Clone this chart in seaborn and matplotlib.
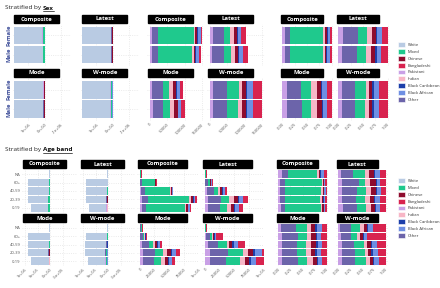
import numpy as np
import pandas as pd
import matplotlib.pyplot as plt
import matplotlib.patches as mpatches
from matplotlib.lines import Line2D
import seaborn as sns

# columnas de los datos (en miles de personas)
cols_datos = ['White', 'Pakistani', 'Other', 'Mixed', 'Indian', 'Chinese',
              'Black Caribbean', 'Black African', 'Bangladeshi']

# leyenda (orden y colores)
leyenda = ['White', 'Mixed', 'Chinese', 'Bangladeshi', 'Pakistani', 'Indian',
           'Black Caribbean', 'Black African', 'Other']
colores = ['#B9CBE3', '#1FC98D', '#8E0C2E', '#D8234F', '#C9A0E6', '#F7B6C6',
           '#1C3FAA', '#6E8FE3', '#6C64AA']
metodos = ['Composite', 'Latest', 'Mode', 'W-mode']

# ---- Sexo (filas: Female, Male) ----
sexo_grupos = ['Female', 'Male']
sexo_composite = [[1750, 7, 16, 103, 5, 5, 3, 7, 5],
                  [1720, 7, 16, 98, 5, 4, 3, 8, 6]]
sexo_latest = [[1790, 9, 31, 19, 12, 8, 2, 10, 12],
               [1760, 8, 33, 21, 11, 9, 3, 10, 14]]
sexo_mode = [[1800, 8, 29, 19, 11, 8, 3, 10, 8],
             [1765, 9, 30, 20, 11, 10, 2, 9, 9]]
sexo_wmode = [[1750, 11, 39, 33, 10, 10, 5, 15, 27],
              [1715, 11, 39, 30, 13, 10, 5, 15, 27]]

# ---- Banda de edad (filas: NA, 60+, 40-59, 20-39, 0-19) ----
edad_grupos = ['NA', '60+', '40-59', '20-39', '0-19']
edad_composite = [[40, 0.2, 0.4, 1.8, 0.1, 0.1, 0.05, 0.2, 0.15],
                  [840, 1, 3, 22, 0.6, 0.6, 0.3, 0.8, 0.7],
                  [840, 2, 6, 43, 1.5, 1.5, 0.6, 1.5, 1],
                  [800, 4, 10, 70, 3, 3, 1.5, 3, 2.5],
                  [680, 4, 7, 66, 2.5, 2, 1.2, 2, 2.3]]
edad_latest = [[40, 0.2, 0.8, 0.8, 0.3, 0.3, 0.1, 0.3, 0.4],
               [850, 1, 5, 2, 1.5, 1.5, 0.3, 1, 1.7],
               [860, 3, 12, 7, 4, 4, 1, 3, 4],
               [810, 6, 22, 14, 8, 6, 2, 7, 9],
               [700, 6, 20, 12, 7, 5, 1.5, 6, 7.5]]
edad_mode = [[40, 0.3, 1.5, 1.2, 0.4, 0.4, 0.2, 0.5, 0.5],
             [850, 1, 4, 2, 1.2, 1.2, 0.3, 1, 1.3],
             [860, 3, 12, 7, 4, 4, 1, 3, 4],
             [810, 5, 21, 13, 8, 6, 2, 6, 8],
             [700, 5, 19, 12, 7, 5, 1.5, 5, 5.5]]
edad_wmode = [[40, 0.1, 0.7, 0.6, 0.2, 0.2, 0.1, 0.3, 0.8],
              [840, 2, 6, 4, 2, 2, 1, 2, 12],
              [850, 5, 18, 14, 5, 5, 2, 7, 13],
              [800, 8, 32, 25, 9, 8, 4, 12, 19],
              [690, 8, 28, 24, 8, 7, 3, 10, 15]]

sns.set_theme(style='whitegrid')
plt.rcParams['font.family'] = ['Open Sans', 'DejaVu Sans']
plt.rcParams['grid.color'] = '#e4e4e4'
plt.rcParams['grid.linestyle'] = ':'
plt.rcParams['grid.linewidth'] = 0.6

paleta = dict(zip(leyenda, colores))
W, H = 440, 288
fig = plt.figure(figsize=(4.4, 2.88), dpi=100)


def caja(x0, y0, x1, y1):
    return fig.add_axes([x0 / W, 1 - y1 / H, (x1 - x0) / W, (y1 - y0) / H])


def tabla(datos, grupos):
    filas = []
    for i, g in enumerate(grupos):
        for j, e in enumerate(cols_datos):
            filas.append({'pos': len(grupos) - 1 - i, 'etnia': e, 'n': datos[i][j]})
    return pd.DataFrame(filas)


def panel(ax, datos, grupos, modo, titulo, xlim, ticks, etiquetas,
          mostrar_x, mostrar_y, estilo_y):
    df = tabla(datos, grupos)
    if modo == 'todo':
        orden = cols_datos
        multiple = 'stack'
    else:
        df = df[df['etnia'] != 'White']
        orden = cols_datos[1:][::-1]
        multiple = 'fill' if modo == 'prop' else 'stack'
    sns.histplot(data=df, y='pos', hue='etnia', weights='n', discrete=True,
                 multiple=multiple, hue_order=orden, palette=paleta,
                 shrink=0.9, linewidth=0, alpha=1, legend=False, ax=ax)
    ax.set_xlabel('')
    ax.set_ylabel('')
    ax.set_xlim(*xlim)
    ax.set_ylim(-0.6, len(grupos) - 0.4)
    ax.set_xticks(ticks)
    ax.set_yticks(range(len(grupos)))
    if mostrar_x:
        ax.set_xticklabels(etiquetas, rotation=45, ha='right', rotation_mode='anchor')
    else:
        ax.set_xticklabels([])
    if mostrar_y:
        if estilo_y == 'sexo':
            ax.set_yticklabels(grupos[::-1], rotation=90, va='center',
                               fontsize=4.2, fontweight='bold', color='#3F4F9A')
        else:
            ax.set_yticklabels(grupos[::-1], fontsize=3, color='#555555')
    else:
        ax.set_yticklabels([])
    ax.tick_params(axis='x', labelsize=3, colors='#555555', length=0, pad=1)
    ax.tick_params(axis='y', length=0, pad=1)
    for s in ax.spines.values():
        s.set_visible(False)
    # tira negra con el nombre del metodo
    alto = ax.get_position().height * H
    ax.add_patch(mpatches.Rectangle((0.02, 1 + 1.0 / alto), 0.78, 8.0 / alto,
                                    transform=ax.transAxes, color='black',
                                    clip_on=False))
    ax.text(0.41, 1 + 5.0 / alto, titulo, transform=ax.transAxes, ha='center',
            va='center', color='white', fontsize=4.3, fontweight='bold')


def bloque(datos_metodos, grupos, filas_y, columnas, escalas, estilo_y):
    for k, (modo, cols, (xlim, ticks, etiquetas)) in enumerate(zip(['todo', 'conteo', 'prop'], columnas, escalas)):
        for m, (datos, titulo) in enumerate(zip(datos_metodos, metodos)):
            fila, col = divmod(m, 2)
            x0, x1 = cols[col]
            y0, y1 = filas_y[fila]
            ax = caja(x0, y0, x1, y1)
            panel(ax, datos, grupos, modo, titulo, xlim, ticks, etiquetas,
                  fila == 1, k == 0 and col == 0, estilo_y)


def titulo(y, negrita):
    t1 = fig.text(5 / W, 1 - y / H, 'Stratified by ', fontsize=4.6,
                  va='center', color='#222222')
    fig.canvas.draw()
    bb = t1.get_window_extent()
    t2 = fig.text(bb.x1 / W, 1 - y / H, negrita, fontsize=4.6, va='center',
                  fontweight='bold', color='#111111')
    fig.canvas.draw()
    b2 = t2.get_window_extent()
    fig.add_artist(Line2D([b2.x0 / W, b2.x1 / W], [b2.y0 / H, b2.y0 / H],
                          color='#111111', linewidth=0.5))


def leyenda_fig(y_centro):
    manejadores = [mpatches.Patch(facecolor=c, edgecolor='white', linewidth=0.4, label=e)
                   for e, c in zip(leyenda, colores)]
    fig.legend(handles=manejadores, loc='center left',
               bbox_to_anchor=(396 / W, 1 - y_centro / H), frameon=False,
               fontsize=3.0, handlelength=1.7, handleheight=1.45,
               labelspacing=0.45, handletextpad=0.7, borderpad=0,
               labelcolor='#333333')


# escalas: todos (eje invertido), conteo sin White, proporciones
escala_sexo = [((1940, -1580), [1000, 0, -1000], ['1e+06', '0e+00', '-1e+06']),
               ((-7.5, 158.5), [0, 50, 100, 150], ['0', '50000', '100000', '150000']),
               ((-0.05, 1.05), [0, 0.25, 0.5, 0.75, 1], ['0.00', '0.25', '0.50', '0.75', '1.00'])]
escala_edad = [((1120, -1080), [1000, 500, 0, -500], ['1e+06', '5e+05', '0e+00', '-5e+05']),
               ((-4.8, 100.8), [0, 25, 50, 75, 100], ['0', '25000', '50000', '75000', '1e+05']),
               ((-0.05, 1.05), [0, 0.25, 0.5, 0.75, 1], ['0.00', '0.25', '0.50', '0.75', '1.00'])]

titulo(8, 'Sex')
bloque([sexo_composite, sexo_latest, sexo_mode, sexo_wmode], sexo_grupos,
       [(24, 66), (78, 121)],
       [[(13, 71), (81, 139)], [(147, 205), (207, 265)], [(280, 334), (336, 390)]],
       escala_sexo, 'sexo')
leyenda_fig(72)

titulo(150, 'Age band')
bloque([edad_composite, edad_latest, edad_mode, edad_wmode], edad_grupos,
       [(169, 213), (223, 266)],
       [[(22, 77), (80, 135)], [(137, 199), (202, 264)], [(276, 329), (336, 388)]],
       escala_edad, 'edad')
leyenda_fig(208)

fig.savefig('out.png', dpi=100)
